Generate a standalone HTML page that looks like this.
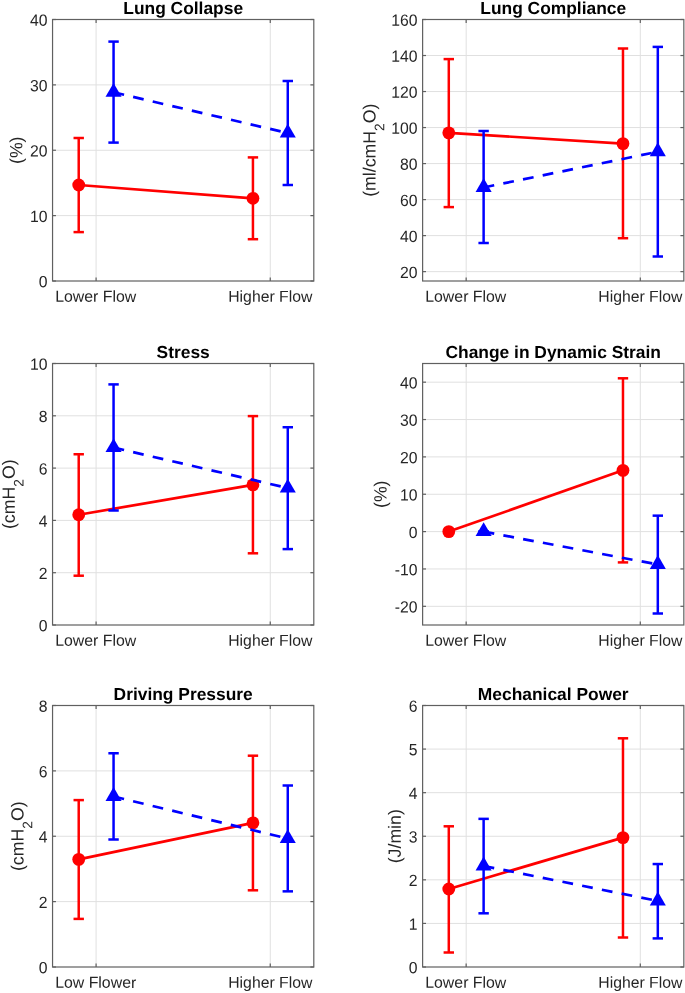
<!DOCTYPE html>
<html><head><meta charset="utf-8"><style>
html,body{margin:0;padding:0;background:#fff;overflow:hidden;width:685px;height:993px;}
svg{display:block;will-change:transform;}
text{font-family:"Liberation Sans",sans-serif;}
.gr{stroke:#e0e0e0;stroke-width:1;}
.tk{stroke:#606060;stroke-width:1.2;}
.bx{fill:none;stroke:#606060;stroke-width:1.2;}
.yt{font-size:15.75px;fill:#262626;text-anchor:end;}
.xt{font-size:15.75px;fill:#262626;text-anchor:middle;}
.ti{font-size:17.4px;font-weight:bold;fill:#000;text-anchor:middle;}
.yl{font-size:17.7px;fill:#262626;text-anchor:middle;}
</style></head><body>
<svg width="685" height="993" viewBox="0 0 685 993">
<rect width="685" height="993" fill="#fff"/>
<g>
<line x1="96.09" y1="19.5" x2="96.09" y2="281" class="gr"/>
<line x1="270.26" y1="19.5" x2="270.26" y2="281" class="gr"/>
<line x1="52.55" y1="215.62" x2="313.8" y2="215.62" class="gr"/>
<line x1="52.55" y1="150.25" x2="313.8" y2="150.25" class="gr"/>
<line x1="52.55" y1="84.88" x2="313.8" y2="84.88" class="gr"/>
<line x1="96.09" y1="281" x2="96.09" y2="277.6" class="tk"/>
<line x1="96.09" y1="19.5" x2="96.09" y2="22.9" class="tk"/>
<line x1="270.26" y1="281" x2="270.26" y2="277.6" class="tk"/>
<line x1="270.26" y1="19.5" x2="270.26" y2="22.9" class="tk"/>
<line x1="52.55" y1="281" x2="55.95" y2="281" class="tk"/>
<line x1="313.8" y1="281" x2="310.4" y2="281" class="tk"/>
<line x1="52.55" y1="215.62" x2="55.95" y2="215.62" class="tk"/>
<line x1="313.8" y1="215.62" x2="310.4" y2="215.62" class="tk"/>
<line x1="52.55" y1="150.25" x2="55.95" y2="150.25" class="tk"/>
<line x1="313.8" y1="150.25" x2="310.4" y2="150.25" class="tk"/>
<line x1="52.55" y1="84.88" x2="55.95" y2="84.88" class="tk"/>
<line x1="313.8" y1="84.88" x2="310.4" y2="84.88" class="tk"/>
<line x1="52.55" y1="19.5" x2="55.95" y2="19.5" class="tk"/>
<line x1="313.8" y1="19.5" x2="310.4" y2="19.5" class="tk"/>
<rect x="52.55" y="19.5" width="261.25" height="261.5" class="bx"/>
<text transform="translate(47.55,287.3) rotate(0.05) scale(1,1.035)" class="yt">0</text>
<text transform="translate(47.55,221.93) rotate(0.05) scale(1,1.035)" class="yt">10</text>
<text transform="translate(47.55,156.55) rotate(0.05) scale(1,1.035)" class="yt">20</text>
<text transform="translate(47.55,91.17) rotate(0.05) scale(1,1.035)" class="yt">30</text>
<text transform="translate(47.55,25.8) rotate(0.05) scale(1,1.035)" class="yt">40</text>
<text transform="translate(95.69,301.85) rotate(0.05)" class="xt" style="font-size:15.87px">Lower Flow</text>
<text transform="translate(270.26,301.85) rotate(0.05)" class="xt">Higher Flow</text>
<text transform="translate(183.18,14) rotate(0.05)" class="ti">Lung Collapse</text>
<text transform="translate(22.3,150.25) rotate(-89.95)" class="yl">(%)</text>
<line x1="78.72" y1="138" x2="78.72" y2="232.1" stroke="#ff0000" stroke-width="2.5"/>
<line x1="73.52" y1="138" x2="83.92" y2="138" stroke="#ff0000" stroke-width="2.5"/>
<line x1="73.52" y1="232.1" x2="83.92" y2="232.1" stroke="#ff0000" stroke-width="2.5"/>
<line x1="252.94" y1="157.4" x2="252.94" y2="239.2" stroke="#ff0000" stroke-width="2.5"/>
<line x1="247.74" y1="157.4" x2="258.14" y2="157.4" stroke="#ff0000" stroke-width="2.5"/>
<line x1="247.74" y1="239.2" x2="258.14" y2="239.2" stroke="#ff0000" stroke-width="2.5"/>
<line x1="78.72" y1="185" x2="252.94" y2="198.3" stroke="#ff0000" stroke-width="2.7"/>
<circle cx="78.72" cy="185" r="6.4" fill="#ff0000"/>
<circle cx="252.94" cy="198.3" r="6.4" fill="#ff0000"/>
<line x1="113.56" y1="41.6" x2="113.56" y2="142.6" stroke="#0000ff" stroke-width="2.5"/>
<line x1="108.36" y1="41.6" x2="118.76" y2="41.6" stroke="#0000ff" stroke-width="2.5"/>
<line x1="108.36" y1="142.6" x2="118.76" y2="142.6" stroke="#0000ff" stroke-width="2.5"/>
<line x1="287.78" y1="81" x2="287.78" y2="185" stroke="#0000ff" stroke-width="2.5"/>
<line x1="282.58" y1="81" x2="292.98" y2="81" stroke="#0000ff" stroke-width="2.5"/>
<line x1="282.58" y1="185" x2="292.98" y2="185" stroke="#0000ff" stroke-width="2.5"/>
<line x1="113.56" y1="92.35" x2="287.78" y2="133.05" stroke="#0000ff" stroke-width="2.7" stroke-dasharray="10.8 9.3"/>
<polygon points="113.56,82.95 121.58,96.85 105.53,96.85" fill="#0000ff"/>
<polygon points="287.78,123.65 295.8,137.55 279.75,137.55" fill="#0000ff"/>
</g>
<g>
<line x1="466.16" y1="19.5" x2="466.16" y2="281" class="gr"/>
<line x1="640.3" y1="19.5" x2="640.3" y2="281" class="gr"/>
<line x1="422.62" y1="271.63" x2="683.83" y2="271.63" class="gr"/>
<line x1="422.62" y1="235.62" x2="683.83" y2="235.62" class="gr"/>
<line x1="422.62" y1="199.6" x2="683.83" y2="199.6" class="gr"/>
<line x1="422.62" y1="163.58" x2="683.83" y2="163.58" class="gr"/>
<line x1="422.62" y1="127.56" x2="683.83" y2="127.56" class="gr"/>
<line x1="422.62" y1="91.54" x2="683.83" y2="91.54" class="gr"/>
<line x1="422.62" y1="55.52" x2="683.83" y2="55.52" class="gr"/>
<line x1="466.16" y1="281" x2="466.16" y2="277.6" class="tk"/>
<line x1="466.16" y1="19.5" x2="466.16" y2="22.9" class="tk"/>
<line x1="640.3" y1="281" x2="640.3" y2="277.6" class="tk"/>
<line x1="640.3" y1="19.5" x2="640.3" y2="22.9" class="tk"/>
<line x1="422.62" y1="271.63" x2="426.02" y2="271.63" class="tk"/>
<line x1="683.83" y1="271.63" x2="680.43" y2="271.63" class="tk"/>
<line x1="422.62" y1="235.62" x2="426.02" y2="235.62" class="tk"/>
<line x1="683.83" y1="235.62" x2="680.43" y2="235.62" class="tk"/>
<line x1="422.62" y1="199.6" x2="426.02" y2="199.6" class="tk"/>
<line x1="683.83" y1="199.6" x2="680.43" y2="199.6" class="tk"/>
<line x1="422.62" y1="163.58" x2="426.02" y2="163.58" class="tk"/>
<line x1="683.83" y1="163.58" x2="680.43" y2="163.58" class="tk"/>
<line x1="422.62" y1="127.56" x2="426.02" y2="127.56" class="tk"/>
<line x1="683.83" y1="127.56" x2="680.43" y2="127.56" class="tk"/>
<line x1="422.62" y1="91.54" x2="426.02" y2="91.54" class="tk"/>
<line x1="683.83" y1="91.54" x2="680.43" y2="91.54" class="tk"/>
<line x1="422.62" y1="55.52" x2="426.02" y2="55.52" class="tk"/>
<line x1="683.83" y1="55.52" x2="680.43" y2="55.52" class="tk"/>
<line x1="422.62" y1="19.5" x2="426.02" y2="19.5" class="tk"/>
<line x1="683.83" y1="19.5" x2="680.43" y2="19.5" class="tk"/>
<rect x="422.62" y="19.5" width="261.21" height="261.5" class="bx"/>
<text transform="translate(417.62,277.93) rotate(0.05) scale(1,1.035)" class="yt">20</text>
<text transform="translate(417.62,241.92) rotate(0.05) scale(1,1.035)" class="yt">40</text>
<text transform="translate(417.62,205.9) rotate(0.05) scale(1,1.035)" class="yt">60</text>
<text transform="translate(417.62,169.88) rotate(0.05) scale(1,1.035)" class="yt">80</text>
<text transform="translate(417.62,133.86) rotate(0.05) scale(1,1.035)" class="yt">100</text>
<text transform="translate(417.62,97.84) rotate(0.05) scale(1,1.035)" class="yt">120</text>
<text transform="translate(417.62,61.82) rotate(0.05) scale(1,1.035)" class="yt">140</text>
<text transform="translate(417.62,25.8) rotate(0.05) scale(1,1.035)" class="yt">160</text>
<text transform="translate(465.76,301.85) rotate(0.05)" class="xt" style="font-size:15.87px">Lower Flow</text>
<text transform="translate(640.3,301.85) rotate(0.05)" class="xt">Higher Flow</text>
<text transform="translate(553.23,14) rotate(0.05)" class="ti">Lung Compliance</text>
<text transform="translate(375.5,150.25) rotate(-89.95)" class="yl">(ml/cmH<tspan dy="8.6" font-size="13.8">2</tspan><tspan dy="-8.6">O)</tspan></text>
<line x1="448.79" y1="59.1" x2="448.79" y2="207.1" stroke="#ff0000" stroke-width="2.5"/>
<line x1="443.59" y1="59.1" x2="453.99" y2="59.1" stroke="#ff0000" stroke-width="2.5"/>
<line x1="443.59" y1="207.1" x2="453.99" y2="207.1" stroke="#ff0000" stroke-width="2.5"/>
<line x1="622.98" y1="48.5" x2="622.98" y2="238.2" stroke="#ff0000" stroke-width="2.5"/>
<line x1="617.78" y1="48.5" x2="628.18" y2="48.5" stroke="#ff0000" stroke-width="2.5"/>
<line x1="617.78" y1="238.2" x2="628.18" y2="238.2" stroke="#ff0000" stroke-width="2.5"/>
<line x1="448.79" y1="132.85" x2="622.98" y2="143.6" stroke="#ff0000" stroke-width="2.7"/>
<circle cx="448.79" cy="132.85" r="6.4" fill="#ff0000"/>
<circle cx="622.98" cy="143.6" r="6.4" fill="#ff0000"/>
<line x1="483.62" y1="131" x2="483.62" y2="243" stroke="#0000ff" stroke-width="2.5"/>
<line x1="478.42" y1="131" x2="488.82" y2="131" stroke="#0000ff" stroke-width="2.5"/>
<line x1="478.42" y1="243" x2="488.82" y2="243" stroke="#0000ff" stroke-width="2.5"/>
<line x1="657.81" y1="46.9" x2="657.81" y2="256.5" stroke="#0000ff" stroke-width="2.5"/>
<line x1="652.61" y1="46.9" x2="663.01" y2="46.9" stroke="#0000ff" stroke-width="2.5"/>
<line x1="652.61" y1="256.5" x2="663.01" y2="256.5" stroke="#0000ff" stroke-width="2.5"/>
<line x1="483.62" y1="187.45" x2="657.81" y2="151.75" stroke="#0000ff" stroke-width="2.7" stroke-dasharray="10.8 9.3"/>
<polygon points="483.62,178.05 491.64,191.95 475.59,191.95" fill="#0000ff"/>
<polygon points="657.81,142.35 665.83,156.25 649.78,156.25" fill="#0000ff"/>
</g>
<g>
<line x1="96.09" y1="363.5" x2="96.09" y2="625" class="gr"/>
<line x1="270.26" y1="363.5" x2="270.26" y2="625" class="gr"/>
<line x1="52.55" y1="572.7" x2="313.8" y2="572.7" class="gr"/>
<line x1="52.55" y1="520.4" x2="313.8" y2="520.4" class="gr"/>
<line x1="52.55" y1="468.1" x2="313.8" y2="468.1" class="gr"/>
<line x1="52.55" y1="415.8" x2="313.8" y2="415.8" class="gr"/>
<line x1="96.09" y1="625" x2="96.09" y2="621.6" class="tk"/>
<line x1="96.09" y1="363.5" x2="96.09" y2="366.9" class="tk"/>
<line x1="270.26" y1="625" x2="270.26" y2="621.6" class="tk"/>
<line x1="270.26" y1="363.5" x2="270.26" y2="366.9" class="tk"/>
<line x1="52.55" y1="625" x2="55.95" y2="625" class="tk"/>
<line x1="313.8" y1="625" x2="310.4" y2="625" class="tk"/>
<line x1="52.55" y1="572.7" x2="55.95" y2="572.7" class="tk"/>
<line x1="313.8" y1="572.7" x2="310.4" y2="572.7" class="tk"/>
<line x1="52.55" y1="520.4" x2="55.95" y2="520.4" class="tk"/>
<line x1="313.8" y1="520.4" x2="310.4" y2="520.4" class="tk"/>
<line x1="52.55" y1="468.1" x2="55.95" y2="468.1" class="tk"/>
<line x1="313.8" y1="468.1" x2="310.4" y2="468.1" class="tk"/>
<line x1="52.55" y1="415.8" x2="55.95" y2="415.8" class="tk"/>
<line x1="313.8" y1="415.8" x2="310.4" y2="415.8" class="tk"/>
<line x1="52.55" y1="363.5" x2="55.95" y2="363.5" class="tk"/>
<line x1="313.8" y1="363.5" x2="310.4" y2="363.5" class="tk"/>
<rect x="52.55" y="363.5" width="261.25" height="261.5" class="bx"/>
<text transform="translate(47.55,631.3) rotate(0.05) scale(1,1.035)" class="yt">0</text>
<text transform="translate(47.55,579) rotate(0.05) scale(1,1.035)" class="yt">2</text>
<text transform="translate(47.55,526.7) rotate(0.05) scale(1,1.035)" class="yt">4</text>
<text transform="translate(47.55,474.4) rotate(0.05) scale(1,1.035)" class="yt">6</text>
<text transform="translate(47.55,422.1) rotate(0.05) scale(1,1.035)" class="yt">8</text>
<text transform="translate(47.55,369.8) rotate(0.05) scale(1,1.035)" class="yt">10</text>
<text transform="translate(95.69,645.85) rotate(0.05)" class="xt" style="font-size:15.87px">Lower Flow</text>
<text transform="translate(270.26,645.85) rotate(0.05)" class="xt">Higher Flow</text>
<text transform="translate(183.18,358) rotate(0.05)" class="ti">Stress</text>
<text transform="translate(14.8,494.25) rotate(-89.95)" class="yl">(cmH<tspan dy="8.6" font-size="13.8">2</tspan><tspan dy="-8.6">O)</tspan></text>
<line x1="78.72" y1="454.25" x2="78.72" y2="575.7" stroke="#ff0000" stroke-width="2.5"/>
<line x1="73.52" y1="454.25" x2="83.92" y2="454.25" stroke="#ff0000" stroke-width="2.5"/>
<line x1="73.52" y1="575.7" x2="83.92" y2="575.7" stroke="#ff0000" stroke-width="2.5"/>
<line x1="252.94" y1="416.1" x2="252.94" y2="553.3" stroke="#ff0000" stroke-width="2.5"/>
<line x1="247.74" y1="416.1" x2="258.14" y2="416.1" stroke="#ff0000" stroke-width="2.5"/>
<line x1="247.74" y1="553.3" x2="258.14" y2="553.3" stroke="#ff0000" stroke-width="2.5"/>
<line x1="78.72" y1="514.75" x2="252.94" y2="484.85" stroke="#ff0000" stroke-width="2.7"/>
<circle cx="78.72" cy="514.75" r="6.4" fill="#ff0000"/>
<circle cx="252.94" cy="484.85" r="6.4" fill="#ff0000"/>
<line x1="113.56" y1="384.4" x2="113.56" y2="510.5" stroke="#0000ff" stroke-width="2.5"/>
<line x1="108.36" y1="384.4" x2="118.76" y2="384.4" stroke="#0000ff" stroke-width="2.5"/>
<line x1="108.36" y1="510.5" x2="118.76" y2="510.5" stroke="#0000ff" stroke-width="2.5"/>
<line x1="287.78" y1="427.25" x2="287.78" y2="549.1" stroke="#0000ff" stroke-width="2.5"/>
<line x1="282.58" y1="427.25" x2="292.98" y2="427.25" stroke="#0000ff" stroke-width="2.5"/>
<line x1="282.58" y1="549.1" x2="292.98" y2="549.1" stroke="#0000ff" stroke-width="2.5"/>
<line x1="113.56" y1="447.6" x2="287.78" y2="488.05" stroke="#0000ff" stroke-width="2.7" stroke-dasharray="10.8 9.3"/>
<polygon points="113.56,438.2 121.58,452.1 105.53,452.1" fill="#0000ff"/>
<polygon points="287.78,478.65 295.8,492.55 279.75,492.55" fill="#0000ff"/>
</g>
<g>
<line x1="466.16" y1="363.5" x2="466.16" y2="625" class="gr"/>
<line x1="640.3" y1="363.5" x2="640.3" y2="625" class="gr"/>
<line x1="422.62" y1="606.32" x2="683.83" y2="606.32" class="gr"/>
<line x1="422.62" y1="568.96" x2="683.83" y2="568.96" class="gr"/>
<line x1="422.62" y1="531.61" x2="683.83" y2="531.61" class="gr"/>
<line x1="422.62" y1="494.25" x2="683.83" y2="494.25" class="gr"/>
<line x1="422.62" y1="456.89" x2="683.83" y2="456.89" class="gr"/>
<line x1="422.62" y1="419.54" x2="683.83" y2="419.54" class="gr"/>
<line x1="422.62" y1="382.18" x2="683.83" y2="382.18" class="gr"/>
<line x1="466.16" y1="625" x2="466.16" y2="621.6" class="tk"/>
<line x1="466.16" y1="363.5" x2="466.16" y2="366.9" class="tk"/>
<line x1="640.3" y1="625" x2="640.3" y2="621.6" class="tk"/>
<line x1="640.3" y1="363.5" x2="640.3" y2="366.9" class="tk"/>
<line x1="422.62" y1="606.32" x2="426.02" y2="606.32" class="tk"/>
<line x1="683.83" y1="606.32" x2="680.43" y2="606.32" class="tk"/>
<line x1="422.62" y1="568.96" x2="426.02" y2="568.96" class="tk"/>
<line x1="683.83" y1="568.96" x2="680.43" y2="568.96" class="tk"/>
<line x1="422.62" y1="531.61" x2="426.02" y2="531.61" class="tk"/>
<line x1="683.83" y1="531.61" x2="680.43" y2="531.61" class="tk"/>
<line x1="422.62" y1="494.25" x2="426.02" y2="494.25" class="tk"/>
<line x1="683.83" y1="494.25" x2="680.43" y2="494.25" class="tk"/>
<line x1="422.62" y1="456.89" x2="426.02" y2="456.89" class="tk"/>
<line x1="683.83" y1="456.89" x2="680.43" y2="456.89" class="tk"/>
<line x1="422.62" y1="419.54" x2="426.02" y2="419.54" class="tk"/>
<line x1="683.83" y1="419.54" x2="680.43" y2="419.54" class="tk"/>
<line x1="422.62" y1="382.18" x2="426.02" y2="382.18" class="tk"/>
<line x1="683.83" y1="382.18" x2="680.43" y2="382.18" class="tk"/>
<rect x="422.62" y="363.5" width="261.21" height="261.5" class="bx"/>
<text transform="translate(417.62,612.62) rotate(0.05) scale(1,1.035)" class="yt">-20</text>
<text transform="translate(417.62,575.26) rotate(0.05) scale(1,1.035)" class="yt">-10</text>
<text transform="translate(417.62,537.91) rotate(0.05) scale(1,1.035)" class="yt">0</text>
<text transform="translate(417.62,500.55) rotate(0.05) scale(1,1.035)" class="yt">10</text>
<text transform="translate(417.62,463.19) rotate(0.05) scale(1,1.035)" class="yt">20</text>
<text transform="translate(417.62,425.84) rotate(0.05) scale(1,1.035)" class="yt">30</text>
<text transform="translate(417.62,388.48) rotate(0.05) scale(1,1.035)" class="yt">40</text>
<text transform="translate(465.76,645.85) rotate(0.05)" class="xt" style="font-size:15.87px">Lower Flow</text>
<text transform="translate(640.3,645.85) rotate(0.05)" class="xt">Higher Flow</text>
<text transform="translate(553.23,358) rotate(0.05)" class="ti">Change in Dynamic Strain</text>
<text transform="translate(386.5,494.25) rotate(-89.95)" class="yl">(%)</text>
<line x1="448.79" y1="531.6" x2="448.79" y2="531.6" stroke="#ff0000" stroke-width="2.5"/>
<line x1="443.59" y1="531.6" x2="453.99" y2="531.6" stroke="#ff0000" stroke-width="2.5"/>
<line x1="443.59" y1="531.6" x2="453.99" y2="531.6" stroke="#ff0000" stroke-width="2.5"/>
<line x1="622.98" y1="378.3" x2="622.98" y2="562.4" stroke="#ff0000" stroke-width="2.5"/>
<line x1="617.78" y1="378.3" x2="628.18" y2="378.3" stroke="#ff0000" stroke-width="2.5"/>
<line x1="617.78" y1="562.4" x2="628.18" y2="562.4" stroke="#ff0000" stroke-width="2.5"/>
<line x1="448.79" y1="531.6" x2="622.98" y2="470.35" stroke="#ff0000" stroke-width="2.7"/>
<circle cx="448.79" cy="531.6" r="6.4" fill="#ff0000"/>
<circle cx="622.98" cy="470.35" r="6.4" fill="#ff0000"/>
<line x1="483.62" y1="531.6" x2="483.62" y2="531.6" stroke="#0000ff" stroke-width="2.5"/>
<line x1="478.42" y1="531.6" x2="488.82" y2="531.6" stroke="#0000ff" stroke-width="2.5"/>
<line x1="478.42" y1="531.6" x2="488.82" y2="531.6" stroke="#0000ff" stroke-width="2.5"/>
<line x1="657.81" y1="515.65" x2="657.81" y2="613.5" stroke="#0000ff" stroke-width="2.5"/>
<line x1="652.61" y1="515.65" x2="663.01" y2="515.65" stroke="#0000ff" stroke-width="2.5"/>
<line x1="652.61" y1="613.5" x2="663.01" y2="613.5" stroke="#0000ff" stroke-width="2.5"/>
<line x1="483.62" y1="531.6" x2="657.81" y2="564.5" stroke="#0000ff" stroke-width="2.7" stroke-dasharray="10.8 9.3"/>
<polygon points="483.62,522.2 491.64,536.1 475.59,536.1" fill="#0000ff"/>
<polygon points="657.81,555.1 665.83,569 649.78,569" fill="#0000ff"/>
</g>
<g>
<line x1="96.09" y1="705.5" x2="96.09" y2="967" class="gr"/>
<line x1="270.26" y1="705.5" x2="270.26" y2="967" class="gr"/>
<line x1="52.55" y1="901.62" x2="313.8" y2="901.62" class="gr"/>
<line x1="52.55" y1="836.25" x2="313.8" y2="836.25" class="gr"/>
<line x1="52.55" y1="770.88" x2="313.8" y2="770.88" class="gr"/>
<line x1="96.09" y1="967" x2="96.09" y2="963.6" class="tk"/>
<line x1="96.09" y1="705.5" x2="96.09" y2="708.9" class="tk"/>
<line x1="270.26" y1="967" x2="270.26" y2="963.6" class="tk"/>
<line x1="270.26" y1="705.5" x2="270.26" y2="708.9" class="tk"/>
<line x1="52.55" y1="967" x2="55.95" y2="967" class="tk"/>
<line x1="313.8" y1="967" x2="310.4" y2="967" class="tk"/>
<line x1="52.55" y1="901.62" x2="55.95" y2="901.62" class="tk"/>
<line x1="313.8" y1="901.62" x2="310.4" y2="901.62" class="tk"/>
<line x1="52.55" y1="836.25" x2="55.95" y2="836.25" class="tk"/>
<line x1="313.8" y1="836.25" x2="310.4" y2="836.25" class="tk"/>
<line x1="52.55" y1="770.88" x2="55.95" y2="770.88" class="tk"/>
<line x1="313.8" y1="770.88" x2="310.4" y2="770.88" class="tk"/>
<line x1="52.55" y1="705.5" x2="55.95" y2="705.5" class="tk"/>
<line x1="313.8" y1="705.5" x2="310.4" y2="705.5" class="tk"/>
<rect x="52.55" y="705.5" width="261.25" height="261.5" class="bx"/>
<text transform="translate(47.55,973.3) rotate(0.05) scale(1,1.035)" class="yt">0</text>
<text transform="translate(47.55,907.92) rotate(0.05) scale(1,1.035)" class="yt">2</text>
<text transform="translate(47.55,842.55) rotate(0.05) scale(1,1.035)" class="yt">4</text>
<text transform="translate(47.55,777.17) rotate(0.05) scale(1,1.035)" class="yt">6</text>
<text transform="translate(47.55,711.8) rotate(0.05) scale(1,1.035)" class="yt">8</text>
<text transform="translate(95.69,987.85) rotate(0.05)" class="xt" style="font-size:15.87px">Low Flower</text>
<text transform="translate(270.26,987.85) rotate(0.05)" class="xt">Higher Flow</text>
<text transform="translate(183.18,700) rotate(0.05)" class="ti">Driving Pressure</text>
<text transform="translate(23.6,836.25) rotate(-89.95)" class="yl">(cmH<tspan dy="8.6" font-size="13.8">2</tspan><tspan dy="-8.6">O)</tspan></text>
<line x1="78.72" y1="800.1" x2="78.72" y2="918.9" stroke="#ff0000" stroke-width="2.5"/>
<line x1="73.52" y1="800.1" x2="83.92" y2="800.1" stroke="#ff0000" stroke-width="2.5"/>
<line x1="73.52" y1="918.9" x2="83.92" y2="918.9" stroke="#ff0000" stroke-width="2.5"/>
<line x1="252.94" y1="755.7" x2="252.94" y2="890.3" stroke="#ff0000" stroke-width="2.5"/>
<line x1="247.74" y1="755.7" x2="258.14" y2="755.7" stroke="#ff0000" stroke-width="2.5"/>
<line x1="247.74" y1="890.3" x2="258.14" y2="890.3" stroke="#ff0000" stroke-width="2.5"/>
<line x1="78.72" y1="859.35" x2="252.94" y2="822.85" stroke="#ff0000" stroke-width="2.7"/>
<circle cx="78.72" cy="859.35" r="6.4" fill="#ff0000"/>
<circle cx="252.94" cy="822.85" r="6.4" fill="#ff0000"/>
<line x1="113.56" y1="753.26" x2="113.56" y2="839.5" stroke="#0000ff" stroke-width="2.5"/>
<line x1="108.36" y1="753.26" x2="118.76" y2="753.26" stroke="#0000ff" stroke-width="2.5"/>
<line x1="108.36" y1="839.5" x2="118.76" y2="839.5" stroke="#0000ff" stroke-width="2.5"/>
<line x1="287.78" y1="785.5" x2="287.78" y2="891.35" stroke="#0000ff" stroke-width="2.5"/>
<line x1="282.58" y1="785.5" x2="292.98" y2="785.5" stroke="#0000ff" stroke-width="2.5"/>
<line x1="282.58" y1="891.35" x2="292.98" y2="891.35" stroke="#0000ff" stroke-width="2.5"/>
<line x1="113.56" y1="796.5" x2="287.78" y2="838.6" stroke="#0000ff" stroke-width="2.7" stroke-dasharray="10.8 9.3"/>
<polygon points="113.56,787.1 121.58,801 105.53,801" fill="#0000ff"/>
<polygon points="287.78,829.2 295.8,843.1 279.75,843.1" fill="#0000ff"/>
</g>
<g>
<line x1="466.16" y1="705.5" x2="466.16" y2="967" class="gr"/>
<line x1="640.3" y1="705.5" x2="640.3" y2="967" class="gr"/>
<line x1="422.62" y1="923.42" x2="683.83" y2="923.42" class="gr"/>
<line x1="422.62" y1="879.83" x2="683.83" y2="879.83" class="gr"/>
<line x1="422.62" y1="836.25" x2="683.83" y2="836.25" class="gr"/>
<line x1="422.62" y1="792.67" x2="683.83" y2="792.67" class="gr"/>
<line x1="422.62" y1="749.08" x2="683.83" y2="749.08" class="gr"/>
<line x1="466.16" y1="967" x2="466.16" y2="963.6" class="tk"/>
<line x1="466.16" y1="705.5" x2="466.16" y2="708.9" class="tk"/>
<line x1="640.3" y1="967" x2="640.3" y2="963.6" class="tk"/>
<line x1="640.3" y1="705.5" x2="640.3" y2="708.9" class="tk"/>
<line x1="422.62" y1="967" x2="426.02" y2="967" class="tk"/>
<line x1="683.83" y1="967" x2="680.43" y2="967" class="tk"/>
<line x1="422.62" y1="923.42" x2="426.02" y2="923.42" class="tk"/>
<line x1="683.83" y1="923.42" x2="680.43" y2="923.42" class="tk"/>
<line x1="422.62" y1="879.83" x2="426.02" y2="879.83" class="tk"/>
<line x1="683.83" y1="879.83" x2="680.43" y2="879.83" class="tk"/>
<line x1="422.62" y1="836.25" x2="426.02" y2="836.25" class="tk"/>
<line x1="683.83" y1="836.25" x2="680.43" y2="836.25" class="tk"/>
<line x1="422.62" y1="792.67" x2="426.02" y2="792.67" class="tk"/>
<line x1="683.83" y1="792.67" x2="680.43" y2="792.67" class="tk"/>
<line x1="422.62" y1="749.08" x2="426.02" y2="749.08" class="tk"/>
<line x1="683.83" y1="749.08" x2="680.43" y2="749.08" class="tk"/>
<line x1="422.62" y1="705.5" x2="426.02" y2="705.5" class="tk"/>
<line x1="683.83" y1="705.5" x2="680.43" y2="705.5" class="tk"/>
<rect x="422.62" y="705.5" width="261.21" height="261.5" class="bx"/>
<text transform="translate(417.62,973.3) rotate(0.05) scale(1,1.035)" class="yt">0</text>
<text transform="translate(417.62,929.72) rotate(0.05) scale(1,1.035)" class="yt">1</text>
<text transform="translate(417.62,886.13) rotate(0.05) scale(1,1.035)" class="yt">2</text>
<text transform="translate(417.62,842.55) rotate(0.05) scale(1,1.035)" class="yt">3</text>
<text transform="translate(417.62,798.97) rotate(0.05) scale(1,1.035)" class="yt">4</text>
<text transform="translate(417.62,755.38) rotate(0.05) scale(1,1.035)" class="yt">5</text>
<text transform="translate(417.62,711.8) rotate(0.05) scale(1,1.035)" class="yt">6</text>
<text transform="translate(465.76,987.85) rotate(0.05)" class="xt" style="font-size:15.87px">Lower Flow</text>
<text transform="translate(640.3,987.85) rotate(0.05)" class="xt">Higher Flow</text>
<text transform="translate(553.23,700) rotate(0.05)" class="ti">Mechanical Power</text>
<text transform="translate(400.8,836.25) rotate(-89.95)" class="yl">(J/min)</text>
<line x1="448.79" y1="826.3" x2="448.79" y2="952.5" stroke="#ff0000" stroke-width="2.5"/>
<line x1="443.59" y1="826.3" x2="453.99" y2="826.3" stroke="#ff0000" stroke-width="2.5"/>
<line x1="443.59" y1="952.5" x2="453.99" y2="952.5" stroke="#ff0000" stroke-width="2.5"/>
<line x1="622.98" y1="738.3" x2="622.98" y2="937.5" stroke="#ff0000" stroke-width="2.5"/>
<line x1="617.78" y1="738.3" x2="628.18" y2="738.3" stroke="#ff0000" stroke-width="2.5"/>
<line x1="617.78" y1="937.5" x2="628.18" y2="937.5" stroke="#ff0000" stroke-width="2.5"/>
<line x1="448.79" y1="889" x2="622.98" y2="837.6" stroke="#ff0000" stroke-width="2.7"/>
<circle cx="448.79" cy="889" r="6.4" fill="#ff0000"/>
<circle cx="622.98" cy="837.6" r="6.4" fill="#ff0000"/>
<line x1="483.62" y1="818.86" x2="483.62" y2="913.3" stroke="#0000ff" stroke-width="2.5"/>
<line x1="478.42" y1="818.86" x2="488.82" y2="818.86" stroke="#0000ff" stroke-width="2.5"/>
<line x1="478.42" y1="913.3" x2="488.82" y2="913.3" stroke="#0000ff" stroke-width="2.5"/>
<line x1="657.81" y1="864.05" x2="657.81" y2="938.4" stroke="#0000ff" stroke-width="2.5"/>
<line x1="652.61" y1="864.05" x2="663.01" y2="864.05" stroke="#0000ff" stroke-width="2.5"/>
<line x1="652.61" y1="938.4" x2="663.01" y2="938.4" stroke="#0000ff" stroke-width="2.5"/>
<line x1="483.62" y1="865.95" x2="657.81" y2="900.95" stroke="#0000ff" stroke-width="2.7" stroke-dasharray="10.8 9.3"/>
<polygon points="483.62,856.55 491.64,870.45 475.59,870.45" fill="#0000ff"/>
<polygon points="657.81,891.55 665.83,905.45 649.78,905.45" fill="#0000ff"/>
</g>
</svg>
</body></html>
